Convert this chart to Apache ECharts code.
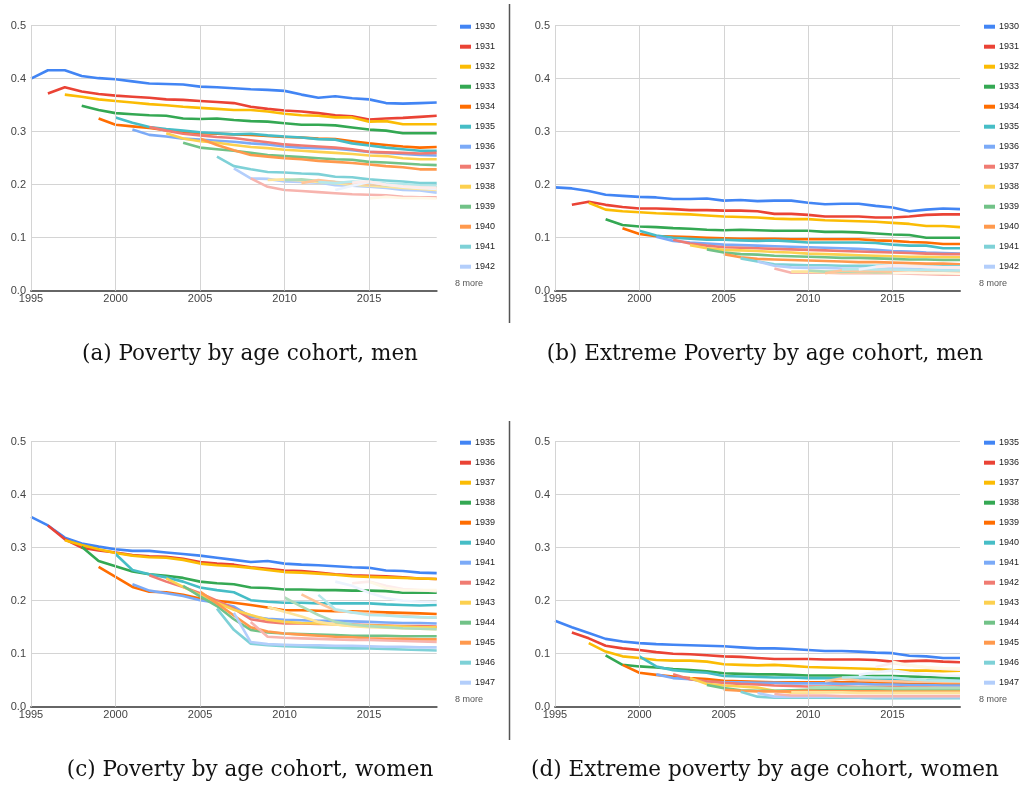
<!DOCTYPE html>
<html><head><meta charset="utf-8">
<script src="https://cdn.jsdelivr.net/npm/echarts@6/dist/echarts.min.js"></script>
<style>html,body{margin:0;padding:0;background:#fff}#c{width:1021px;height:785px}</style>
</head><body><div id="c"></div>
<script>
// ---------- data ----------
const firstYear = 1995;
const xTickYears = [1995, 2000, 2005, 2010, 2015];
const menCohorts = [1930,1931,1932,1933,1934,1935,1936,1937,1938,1939,1940,1941,1942,1943,1944,1945,1946,1947,1948,1949,1950];
const womenCohorts = [1935,1936,1937,1938,1939,1940,1941,1942,1943,1944,1945,1946,1947,1948,1949,1950,1951,1952,1953,1954,1955];
// each row: one cohort, values starting in firstYear + row index (age at entry)
const menPoverty = [
 [0.400,0.416,0.416,0.405,0.401,0.399,0.395,0.391,0.390,0.389,0.385,0.384,0.382,0.380,0.379,0.377,0.370,0.364,0.367,0.363,0.361,0.354,0.353,0.354,0.355],
 [0.372,0.384,0.376,0.371,0.368,0.366,0.364,0.361,0.360,0.358,0.356,0.354,0.347,0.343,0.340,0.338,0.335,0.331,0.329,0.323,0.325,0.326,0.328,0.330],
 [0.370,0.366,0.361,0.358,0.355,0.352,0.350,0.347,0.345,0.343,0.341,0.341,0.338,0.334,0.331,0.330,0.327,0.327,0.319,0.320,0.314,0.314,0.314],
 [0.349,0.341,0.335,0.333,0.331,0.330,0.325,0.324,0.325,0.322,0.320,0.319,0.316,0.313,0.313,0.312,0.308,0.304,0.302,0.297,0.297,0.297],
 [0.325,0.313,0.310,0.307,0.303,0.300,0.297,0.296,0.295,0.294,0.292,0.290,0.289,0.287,0.286,0.282,0.278,0.275,0.272,0.270,0.271],
 [0.327,0.317,0.309,0.305,0.302,0.299,0.297,0.295,0.296,0.293,0.291,0.289,0.286,0.285,0.278,0.274,0.270,0.267,0.264,0.264],
 [0.304,0.294,0.291,0.287,0.285,0.283,0.281,0.278,0.276,0.272,0.270,0.269,0.268,0.265,0.262,0.260,0.258,0.256,0.255],
 [0.309,0.302,0.296,0.293,0.290,0.288,0.284,0.280,0.276,0.274,0.272,0.270,0.267,0.262,0.261,0.260,0.259,0.260],
 [0.297,0.287,0.282,0.279,0.275,0.271,0.269,0.266,0.264,0.262,0.260,0.258,0.255,0.254,0.250,0.248,0.248],
 [0.279,0.270,0.267,0.264,0.260,0.256,0.254,0.252,0.250,0.248,0.247,0.243,0.242,0.240,0.238,0.237],
 [0.287,0.275,0.265,0.256,0.253,0.250,0.248,0.245,0.243,0.241,0.238,0.235,0.233,0.229,0.229],
 [0.253,0.235,0.229,0.224,0.223,0.221,0.220,0.215,0.214,0.210,0.208,0.206,0.203,0.203],
 [0.231,0.212,0.211,0.206,0.205,0.204,0.199,0.198,0.196,0.194,0.190,0.189,0.185],
 [0.212,0.196,0.190,0.188,0.186,0.184,0.182,0.181,0.180,0.177,0.176,0.176],
 [0.209,0.210,0.208,0.205,0.203,0.200,0.198,0.196,0.194,0.192,0.190],
 [0.209,0.210,0.207,0.205,0.203,0.201,0.199,0.197,0.196,0.195],
 [0.203,0.209,0.205,0.203,0.201,0.200,0.198,0.196,0.195],
 [0.205,0.203,0.206,0.204,0.202,0.201,0.199,0.198],
 [0.190,0.198,0.205,0.200,0.196,0.194,0.192],
 [0.204,0.206,0.200,0.197,0.195,0.194],
 [0.174,0.177,0.175,0.175,0.174]
];
const menExtreme = [
 [0.195,0.193,0.188,0.181,0.179,0.177,0.176,0.173,0.173,0.174,0.170,0.171,0.169,0.170,0.170,0.166,0.163,0.164,0.164,0.160,0.157,0.150,0.153,0.155,0.154],
 [0.162,0.168,0.162,0.158,0.155,0.155,0.154,0.152,0.152,0.151,0.151,0.150,0.145,0.145,0.143,0.140,0.140,0.140,0.138,0.138,0.140,0.143,0.144,0.144],
 [0.166,0.153,0.150,0.148,0.146,0.145,0.144,0.142,0.140,0.139,0.138,0.136,0.135,0.135,0.133,0.132,0.131,0.130,0.128,0.126,0.122,0.122,0.120],
 [0.135,0.124,0.121,0.120,0.118,0.117,0.115,0.114,0.115,0.114,0.113,0.113,0.113,0.111,0.111,0.110,0.108,0.106,0.105,0.100,0.100,0.100],
 [0.118,0.107,0.103,0.102,0.101,0.100,0.099,0.098,0.098,0.098,0.097,0.097,0.097,0.097,0.097,0.095,0.094,0.092,0.091,0.088,0.088],
 [0.113,0.104,0.100,0.098,0.096,0.096,0.095,0.094,0.095,0.093,0.091,0.091,0.091,0.091,0.090,0.087,0.085,0.085,0.080,0.080],
 [0.102,0.094,0.091,0.089,0.087,0.086,0.085,0.084,0.083,0.082,0.081,0.080,0.079,0.077,0.075,0.074,0.072,0.071,0.070],
 [0.096,0.089,0.085,0.082,0.081,0.080,0.079,0.078,0.077,0.076,0.075,0.074,0.073,0.072,0.071,0.070,0.069,0.069],
 [0.086,0.080,0.077,0.076,0.075,0.073,0.072,0.070,0.069,0.068,0.067,0.066,0.065,0.064,0.064,0.063,0.063],
 [0.078,0.072,0.069,0.068,0.066,0.065,0.064,0.063,0.062,0.062,0.061,0.060,0.059,0.059,0.058,0.058],
 [0.069,0.063,0.060,0.059,0.058,0.057,0.056,0.055,0.054,0.054,0.053,0.052,0.051,0.051,0.050],
 [0.061,0.055,0.050,0.049,0.048,0.048,0.047,0.047,0.047,0.047,0.046,0.046,0.046,0.046],
 [0.055,0.047,0.044,0.043,0.043,0.042,0.042,0.042,0.042,0.041,0.041,0.040,0.040],
 [0.042,0.034,0.034,0.034,0.033,0.033,0.033,0.033,0.032,0.031,0.030,0.030],
 [0.036,0.036,0.035,0.035,0.035,0.035,0.034,0.034,0.034,0.033,0.033],
 [0.038,0.036,0.036,0.036,0.035,0.035,0.035,0.034,0.034,0.034],
 [0.033,0.038,0.037,0.037,0.036,0.036,0.035,0.035,0.035],
 [0.040,0.041,0.040,0.040,0.039,0.039,0.038,0.038],
 [0.040,0.045,0.048,0.046,0.045,0.044,0.043],
 [0.045,0.047,0.046,0.045,0.044,0.044],
 [0.033,0.034,0.033,0.033,0.032]
];
const womenPoverty = [
 [0.358,0.342,0.319,0.308,0.302,0.297,0.294,0.294,0.291,0.288,0.285,0.281,0.277,0.273,0.275,0.270,0.268,0.267,0.265,0.263,0.262,0.257,0.256,0.253,0.252],
 [0.342,0.316,0.300,0.295,0.291,0.286,0.284,0.283,0.279,0.273,0.270,0.268,0.263,0.260,0.257,0.256,0.253,0.250,0.248,0.247,0.246,0.244,0.242,0.241],
 [0.314,0.305,0.297,0.290,0.285,0.282,0.281,0.277,0.270,0.267,0.265,0.262,0.258,0.254,0.253,0.251,0.249,0.246,0.245,0.244,0.243,0.242,0.241],
 [0.302,0.275,0.265,0.255,0.250,0.247,0.243,0.236,0.233,0.231,0.225,0.224,0.221,0.221,0.220,0.220,0.219,0.219,0.218,0.215,0.215,0.215],
 [0.264,0.245,0.226,0.217,0.216,0.211,0.204,0.200,0.196,0.192,0.187,0.182,0.182,0.181,0.180,0.180,0.179,0.178,0.177,0.176,0.175],
 [0.288,0.258,0.250,0.244,0.236,0.225,0.220,0.216,0.201,0.198,0.196,0.196,0.195,0.195,0.195,0.195,0.193,0.192,0.191,0.192],
 [0.231,0.219,0.214,0.209,0.201,0.196,0.189,0.170,0.166,0.164,0.163,0.162,0.162,0.161,0.160,0.159,0.158,0.158,0.157],
 [0.248,0.236,0.226,0.214,0.200,0.185,0.165,0.160,0.157,0.157,0.156,0.156,0.155,0.154,0.153,0.152,0.152,0.151],
 [0.242,0.226,0.211,0.196,0.183,0.173,0.164,0.160,0.158,0.157,0.155,0.153,0.153,0.152,0.151,0.150,0.150],
 [0.228,0.208,0.190,0.165,0.145,0.140,0.138,0.137,0.136,0.135,0.134,0.134,0.134,0.133,0.133,0.133],
 [0.217,0.195,0.172,0.150,0.142,0.138,0.136,0.134,0.132,0.131,0.129,0.128,0.128,0.127,0.127],
 [0.185,0.145,0.119,0.116,0.114,0.113,0.112,0.111,0.110,0.110,0.109,0.108,0.107,0.106],
 [0.177,0.122,0.118,0.117,0.116,0.116,0.115,0.115,0.114,0.113,0.113,0.112,0.112],
 [0.160,0.132,0.130,0.129,0.128,0.127,0.126,0.126,0.125,0.124,0.123,0.122],
 [0.188,0.179,0.170,0.160,0.155,0.152,0.150,0.149,0.148,0.147,0.146],
 [0.206,0.189,0.173,0.160,0.155,0.152,0.150,0.148,0.147,0.146],
 [0.212,0.196,0.182,0.178,0.176,0.173,0.171,0.169,0.168],
 [0.211,0.184,0.178,0.173,0.172,0.170,0.169,0.168],
 [0.236,0.228,0.215,0.205,0.200,0.198,0.197],
 [0.233,0.236,0.228,0.222,0.220,0.218],
 [0.236,0.224,0.220,0.220,0.220]
];
const womenExtreme = [
 [0.162,0.150,0.139,0.128,0.123,0.120,0.118,0.117,0.116,0.115,0.114,0.112,0.110,0.110,0.109,0.107,0.105,0.105,0.104,0.102,0.101,0.096,0.095,0.092,0.092],
 [0.140,0.129,0.115,0.110,0.107,0.103,0.100,0.099,0.097,0.095,0.094,0.092,0.090,0.090,0.090,0.089,0.089,0.089,0.088,0.085,0.086,0.087,0.085,0.084],
 [0.120,0.104,0.095,0.092,0.088,0.087,0.087,0.085,0.080,0.079,0.078,0.079,0.077,0.075,0.074,0.073,0.072,0.071,0.069,0.068,0.068,0.067,0.068],
 [0.097,0.079,0.076,0.074,0.071,0.069,0.067,0.063,0.062,0.061,0.061,0.060,0.059,0.059,0.059,0.058,0.058,0.058,0.057,0.056,0.055,0.054],
 [0.079,0.064,0.060,0.057,0.054,0.052,0.049,0.048,0.047,0.046,0.046,0.046,0.046,0.046,0.047,0.046,0.044,0.044,0.043,0.043,0.043],
 [0.095,0.076,0.069,0.066,0.064,0.058,0.057,0.056,0.055,0.055,0.054,0.054,0.053,0.053,0.053,0.052,0.051,0.050,0.049,0.049],
 [0.061,0.054,0.052,0.047,0.046,0.046,0.045,0.045,0.044,0.044,0.044,0.043,0.043,0.042,0.042,0.041,0.041,0.040,0.040],
 [0.061,0.052,0.048,0.045,0.043,0.042,0.040,0.039,0.038,0.038,0.038,0.037,0.037,0.037,0.036,0.036,0.035,0.035],
 [0.054,0.043,0.040,0.038,0.036,0.030,0.027,0.027,0.028,0.029,0.029,0.030,0.030,0.030,0.030,0.030,0.030],
 [0.041,0.035,0.031,0.030,0.030,0.031,0.032,0.032,0.033,0.033,0.033,0.033,0.033,0.033,0.033,0.033],
 [0.032,0.030,0.029,0.029,0.029,0.030,0.029,0.029,0.029,0.029,0.028,0.028,0.028,0.028,0.028],
 [0.028,0.019,0.017,0.017,0.017,0.017,0.017,0.017,0.016,0.016,0.016,0.016,0.016,0.016],
 [0.026,0.019,0.019,0.019,0.019,0.019,0.018,0.018,0.018,0.018,0.018,0.018,0.018],
 [0.024,0.021,0.021,0.021,0.020,0.020,0.020,0.020,0.020,0.020,0.020,0.020],
 [0.027,0.027,0.027,0.027,0.026,0.026,0.026,0.026,0.026,0.026,0.026],
 [0.036,0.037,0.036,0.036,0.036,0.035,0.035,0.035,0.035,0.035],
 [0.048,0.053,0.050,0.049,0.048,0.047,0.047,0.046,0.046],
 [0.055,0.056,0.055,0.055,0.052,0.050,0.049,0.048],
 [0.060,0.065,0.068,0.064,0.061,0.059,0.058],
 [0.075,0.082,0.078,0.074,0.071,0.070],
 [0.085,0.078,0.075,0.073,0.072]
];
const seriesColors = ['#4285F4','#EA4335','#FBBC04','#34A853','#FF6D01','#46BDC6','#7BAAF7','#F07B72','#FCD04F','#71C287','#FF994D','#7ED1D7','#B3CEFB','#F7B4AE','#FDE49B','#AEDCBA','#FFC599','#B5E8EB','#ECF3FE','#FDECEB','#FFF8E6'];
const captions = ['(a) Poverty by age cohort, men','(b) Extreme Poverty by age cohort, men','(c) Poverty by age cohort, women','(d) Extreme poverty by age cohort, women'];
const legendShown = 13;
const moreLabel = '8 more';

// ---------- layout ----------
const panels = [
  {key:'a', values: menPoverty, cohorts: menCohorts, grid:{left:31, top:25.7, width:405.7, height:265}, legendX:455, cap:{x:250, y:354}},
  {key:'b', values: menExtreme, cohorts: menCohorts, grid:{left:555, top:25.7, width:405, height:265}, legendX:979, cap:{x:765, y:354}},
  {key:'c', values: womenPoverty, cohorts: womenCohorts, grid:{left:31, top:441.7, width:405.7, height:265}, legendX:455, cap:{x:250, y:770}},
  {key:'d', values: womenExtreme, cohorts: womenCohorts, grid:{left:555, top:441.7, width:405, height:265}, legendX:979, cap:{x:765, y:770}}
];

const grid = [], xAxis = [], yAxis = [], series = [], legend = [], graphic = [];
panels.forEach((p, pi) => {
  grid.push(Object.assign({containLabel:false}, p.grid));
  xAxis.push({
    type:'value', gridIndex:pi, min:1995, max:2019, interval:5,
    axisLine:{show:true, onZero:false, lineStyle:{color:'#666', width:2}},
    axisTick:{show:false}, splitLine:{show:false},
    axisLabel:{color:'#444', fontSize:11, fontFamily:'Arial, Liberation Sans, sans-serif', margin:3,
      formatter: v => (v % 5 === 0 && v < 2019) ? String(v) : ''}
  });
  yAxis.push({
    type:'value', gridIndex:pi, min:0, max:0.5, interval:0.1,
    axisLine:{show:false}, axisTick:{show:false},
    splitLine:{show:true, lineStyle:{color:'#d4d4d4', width:1}},
    axisLabel:{color:'#444', fontSize:11, fontFamily:'Arial, Liberation Sans, sans-serif', margin:5,
      formatter: v => v.toFixed(1)}
  });
  // vertical gridlines at labelled years
  series.push({
    type:'line', xAxisIndex:pi, yAxisIndex:pi, data:[], z:1, silent:true,
    markLine:{silent:true, symbol:['none','none'], label:{show:false}, animation:false,
      lineStyle:{color:'#d4d4d4', width:1, type:'solid'},
      data: xTickYears.map(y => ({xAxis:y}))}
  });
  const names = [];
  p.cohorts.forEach((c, ci) => {
    const name = p.key + '-' + c;
    names.push(name);
    series.push({
      name, type:'line', xAxisIndex:pi, yAxisIndex:pi, z:2,
      color: seriesColors[ci], showSymbol:false, symbol:'none', smooth:false,
      lineStyle:{width:2.6, color: seriesColors[ci]},
      data: p.values[ci].map((v, k) => [firstYear + ci + k, v])
    });
  });
  legend.push({
    orient:'vertical', left:p.legendX, top:p.grid.top - 9.5,
    data: names.slice(0, legendShown), icon:'rect', itemWidth:11, itemHeight:4, itemGap:9,
    selectedMode:false,
    formatter: n => n.split('-')[1],
    textStyle:{color:'#222', fontSize:9, lineHeight:11, fontFamily:'Arial, Liberation Sans, sans-serif', padding:[0,0,0,-1]}
  });
  graphic.push({type:'text', left:p.legendX, top:p.grid.top + 253,
    style:{text:moreLabel, fill:'#555', fontSize:9, fontFamily:'Arial, Liberation Sans, sans-serif'}});
  graphic.push({type:'text', x:p.cap.x, y:p.cap.y,
    style:{text:captions[pi], fill:'#111', fontSize:21.5, fontFamily:'"DejaVu Serif", "Liberation Serif", serif',
      align:'center', verticalAlign:'middle'}});
});
// panel separators
graphic.push({type:'line', shape:{x1:509.5, y1:4, x2:509.5, y2:323}, style:{stroke:'#555', lineWidth:1.5}});
graphic.push({type:'line', shape:{x1:509.5, y1:421, x2:509.5, y2:740}, style:{stroke:'#555', lineWidth:1.5}});

const chart = echarts.init(document.getElementById('c'), null, {renderer:'canvas'});
chart.setOption({animation:false, backgroundColor:'#fff', grid, xAxis, yAxis, series, legend, graphic});
</script>
</body></html>
